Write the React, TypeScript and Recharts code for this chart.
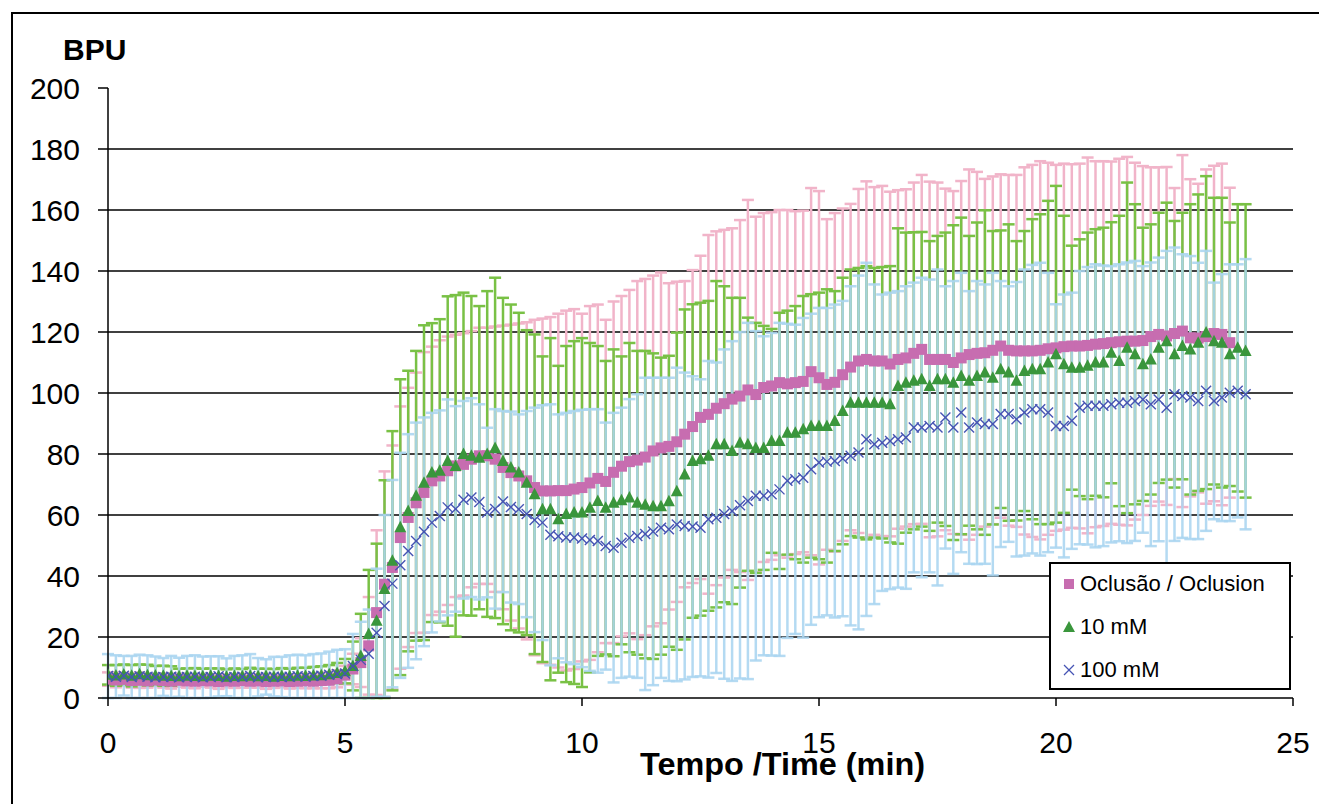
import React from 'react'
import { ComposedChart, Line, ErrorBar, XAxis, YAxis, CartesianGrid } from 'recharts'

// one reading every 10 s (1/6 min), from 0 to 24 min
const occlusionMean = [
  6.2, 5.9, 6.1, 5.7, 5.8, 5.6, 5.9, 5.7, 5.5, 5.8, 5.6, 5.5, 5.7, 5.6, 5.4, 5.6, 5.5, 5.7, 5.5, 5.6, 5.4, 5.5, 5.6, 5.4, 5.5, 5.6, 5.5, 5.7, 5.8, 6.3,
  7.5, 9.5, 11.6, 17.1, 28, 37.3, 42.8, 52.6, 59.2, 64, 67.4, 71.2, 72.8, 74.5, 76.1, 76.6, 78.3, 79.4, 79.4, 78.3, 75.6, 73.9, 72.8, 71.2, 69, 67.9, 67.9,
  68, 68, 68.5, 69, 70.5, 72, 71, 74, 76, 77.5, 78, 79, 81, 82, 82.5, 84, 86.5, 89, 92, 93, 95, 96.5, 98, 99, 101, 99.5, 101.8, 102.3, 103.4, 103, 103.4, 103.8, 107, 105, 102.8, 103.5, 106, 108.5, 110.5, 111, 110.5, 110.5, 109.5,
  111, 111.5, 113, 114.3, 111, 111, 111, 110, 111.5, 112.6, 113, 113.2, 114, 115.4, 114, 113.8, 113.8, 113.8, 114, 114.5, 114.8, 115.2, 115.4, 115.4, 115.6, 116, 116.2, 116.5, 116.8, 117, 117, 117.2, 118.5, 119.2, 118.7, 119.5, 120.3, 118.1, 118, 118.5, 119.5, 119.2, 116.5,
  null, null,
]
const occlusionSd = [
  2.2, 2.4, 2.1, 2.3, 2.5, 2.2, 2.0, 2.3, 2.4, 2.1, 2.2, 2.3, 2.0, 2.2, 2.4, 2.1, 2.2, 2.3, 2.1, 2.2, 2.4, 2.2, 2.1, 2.3, 2.2, 2.4, 2.3, 2.5, 2.6, 2.8,
  3, 5, 8, 16, 27, 37, 40, 43, 42.5, 42.7, 46, 44, 44.5, 44, 43, 43, 42, 42, 42, 43.5, 46.5, 48.5, 50, 52, 55, 56.5, 57,
  58, 59, 59, 57, 58, 57, 53, 56, 55.8, 56.3, 58.7, 58.4, 57.5, 57.5, 53.5, 52.5, 50.2, 51.3, 53, 58.8, 58, 57, 56, 57.7, 62.3, 58.3, 57.2, 57, 56.6, 57, 56.2, 56, 60.2, 61.2, 54.2, 55.5, 54.5, 53.5, 56.4, 58.4, 57, 57.4, 56.5,
  55.5, 55.3, 56, 57.2, 58.3, 58, 56, 56.2, 58, 60.7, 59.5, 57, 57, 56.3, 57.5, 57.7, 60.2, 61, 62, 61, 60, 60, 59.6, 59.8, 61.6, 60, 59.8, 59.4, 60, 60.4, 58.5, 57.2, 55.5, 54.8, 55.4, 47.7, 57.7, 52, 50.6, 54.8, 55, 56, 50.8,
  null, null,
]
const mM10Mean = [
  7.6, 7.4, 7.7, 7.3, 7.8, 7.5, 7.4, 7.3, 7.2, 7.1, 7.3, 7.2, 7.1, 7.3, 7.2, 7.0, 7.2, 7.1, 7.3, 7.1, 7.2, 7.0, 7.2, 7.1, 7.3, 7.2, 7.4, 7.5, 7.8, 8.2,
  8.8, 10.5, 13.8, 21, 25.3, 35.7, 45, 56, 61.3, 66.3, 70.6, 73.9, 74.5, 77.7, 76.1, 80, 79.4, 78.8, 80, 82, 77.7, 75.6, 73.9, 70.6, 66.8, 61.9, 61.9, 58.6, 60.3, 60.8, 60.8, 62.4, 64.6, 62.4, 64, 64.8,
  65.7, 64, 63.4, 62.9, 62.9, 64.5, 67.8, 73.3, 77.7, 78.3, 79.4, 83.2, 83.2, 81, 83.7, 83.2, 82, 82, 84.3, 84.3, 87, 87, 88.1, 89.2, 89.2, 89.2, 90.8, 94.1, 96.8, 96.8, 96.8, 96.8, 96.8, 96.3,
  102.3, 103.4, 104, 104.5, 102.3, 104.5, 104.5, 103.4, 105.6, 104, 105.6, 106.7, 105, 107.8, 106.7, 104, 107.2, 107.8, 107.8, 110, 112.7, 109.4, 108.3, 108.3, 108.9, 110, 110, 113.2, 110.5, 114.8, 112.7, 109.4, 111, 114.8, 117, 112.7, 115.4, 114.3, 116.5, 119.8, 117, 116.5, 112.7, 114.8, 113.8,
]
const mM10Sd = [
  3.2, 3.4, 3.3, 3.5, 3.2, 3.4, 3.1, 3.3, 3.2, 2.5, 2.4, 2.6, 2.5, 2.4, 2.5, 2.4, 2.5, 2.4, 2.6, 2.5, 2.4, 2.5, 2.6, 2.5, 2.6, 2.7, 2.8, 2.9, 3.0, 3.3,
  4, 8, 13.8, 21, 25.3, 35.7, 42.5, 48.5, 46, 47.5, 51.6, 49, 49.7, 54, 56, 52.9, 52.4, 49.7, 53.4, 55.8, 53.5, 53.4, 52.4, 50, 52.4, 50.1, 56.1, 50.3, 55.1, 56.2, 57.2, 54, 50.8, 48.1, 50.3, 47.2,
  50.7, 49.8, 50.4, 50.1, 48.7, 47.7, 52, 54.1, 51.4, 51.3, 50.8, 53.5, 51.8, 50.2, 47.5, 41.5, 41, 40, 36.7, 42, 40, 41.5, 43.7, 43.2, 43.7, 44.8, 42.6, 43.7, 43.7, 44.2, 44.8, 44.2, 44.5, 45.3,
  51.7, 49.2, 48.7, 48.3, 47.5, 47, 48.1, 51.6, 51.9, 47.5, 50.3, 53.2, 48.1, 45.5, 48.6, 45.8, 45.9, 49.2, 50.8, 53, 55.2, 48.7, 40, 42.1, 43.7, 43.7, 44.2, 42.8, 47.6, 54.2, 49.2, 44.8, 44.3, 44.3, 45.4, 43.7, 43.7, 47.6, 48.6, 51.3, 47, 47.5, 43.2, 47.1, 48.1,
]
const mM100Mean = [
  7.2, 7.0, 7.3, 6.9, 7.1, 7.0, 6.8, 6.9, 7.0, 6.8, 6.9, 7.0, 6.8, 6.9, 7.1, 6.8, 6.9, 7.0, 7.2, 6.8, 6.9, 7.0, 6.9, 7.0, 7.1, 7.0, 7.2, 7.3, 7.6, 7.9,
  8, 10.5, 12.5, 14.5, 21.4, 30.2, 37.5, 43.5, 48.2, 51.5, 54.5, 57.5, 59.7, 62.5, 62, 65, 65.7, 64.3, 60.8, 62, 64.4, 62.6, 61.9, 60.3, 58.4, 57.5, 53.5, 53, 52.6, 52.6, 52.3, 51.8, 51.5, 49.8, 49.3, 50.9,
  52.5, 53.1, 53.8, 54.6, 55.8, 55.3, 56.9, 56.4, 56.2, 55.8, 58.6, 59.1, 60.3, 61.3, 63.2, 64.6, 66.3, 66.3, 66.8, 68.4, 71.2, 71.7, 72.2, 75, 77.2, 77.5, 77.7, 78.5, 79.4, 80.5, 84.8, 83.2, 83.7, 84.3,
  84.8, 85.4, 88.7, 88.7, 89.2, 88.7, 92, 88.7, 93.6, 88.7, 90.3, 89.8, 89.8, 93.1, 93.1, 91.4, 93.6, 94.7, 94.7, 93.6, 89.2, 89.2, 90.9, 95.2, 95.8, 95.8, 95.8, 96.3, 96.8, 96.8, 97.4, 97.9, 96.3, 97.9, 95.2, 99.6, 99, 98.5, 97.4, 100.7, 97.4, 98.5, 100.1, 100.7, 99.6,
]
const mM100Sd = [
  7.2, 7.0, 6.5, 6.9, 7.1, 7.0, 6.8, 6.2, 6.8, 6.4, 6.9, 7.0, 6.8, 6.8, 6.6, 6.2, 6.9, 7.0, 7.2, 6.3, 5.8, 6.5, 6.6, 7.0, 7.1, 7.0, 7.2, 7.3, 7.6, 7.9,
  8, 10.5, 12.5, 14.5, 21, 29.8, 34, 36.9, 38.3, 38.8, 37.5, 36, 34.6, 35.4, 33.7, 32.4, 32.6, 32, 27.8, 32.7, 29.7, 31.3, 31.1, 33.8, 36.8, 38.5, 42.8, 40, 40.9, 41.5, 42.2, 42.9, 43.2, 40.5, 44.2, 44.3,
  45.5, 46.5, 51.2, 50.4, 49.2, 49.7, 51.4, 50.3, 49.3, 48.7, 51.9, 50.9, 54, 55.7, 56.8, 58.4, 54, 52.3, 52.9, 54.6, 51.5, 50.7, 52.4, 51, 50.7, 50.4, 51.3, 51.7, 55.6, 58, 57.9, 52.4, 48.6, 48.6,
  48.6, 49.6, 47.5, 49.1, 48, 51.8, 43, 48, 45.8, 44.7, 46.4, 45.8, 49.6, 43.6, 41.9, 45, 46.9, 47.3, 48, 45.8, 39.9, 43.1, 42, 44.8, 45.5, 46.4, 46, 45.3, 45.4, 46, 45.9, 43.7, 46.5, 46.5, 51.4, 48.1, 46.5, 46.4, 45.3, 45.9, 38.8, 40.5, 42.1, 41.5, 44.3,
]

const xTicks = [0, 5, 10, 15, 20, 25]
const yTicks = [0, 20, 40, 60, 80, 100, 120, 140, 160, 180, 200]
const gridValues = [20, 40, 60, 80, 100, 120, 140, 160, 180]
const legendLabels = ['Oclusão / Oclusion', '10 mM', '100 mM']

const PINK = '#c76db0'
const PINK_ERR = '#f1b4c9'
const GREEN = '#3a963c'
const GREEN_ERR = '#79c145'
const BLUE = '#4654b4'
const BLUE_ERR = '#aad5f0'
const FONT = "'Liberation Sans', Arial, sans-serif"

const data = mM10Mean.map((g, i) => ({
  t: i / 6,
  p: occlusionMean[i],
  pe: occlusionSd[i],
  g,
  ge: mM10Sd[i],
  b: mM100Mean[i],
  be: mM100Sd[i],
}))

const ok = (v: any) => typeof v === 'number' && Number.isFinite(v)

const SquareDot = (props: any) => {
  const { cx, cy, index } = props
  if (!ok(cx) || !ok(cy)) return <g key={`sq-${index}`} />
  return <rect key={`sq-${index}`} x={cx - 5.5} y={cy - 5.5} width={11} height={11} fill={PINK} />
}

const TriangleDot = (props: any) => {
  const { cx, cy, index } = props
  if (!ok(cx) || !ok(cy)) return <g key={`tr-${index}`} />
  return (
    <polygon
      key={`tr-${index}`}
      points={`${cx},${cy - 6.5} ${cx + 6},${cy + 5} ${cx - 6},${cy + 5}`}
      fill={GREEN}
    />
  )
}

const CrossDot = (props: any) => {
  const { cx, cy, index } = props
  if (!ok(cx) || !ok(cy)) return <g key={`cr-${index}`} />
  return (
    <g key={`cr-${index}`} stroke={BLUE} strokeWidth={1.4}>
      <line x1={cx - 5} y1={cy - 5} x2={cx + 5} y2={cy + 5} />
      <line x1={cx - 5} y1={cy + 5} x2={cx + 5} y2={cy - 5} />
    </g>
  )
}

const legendMarkers = [
  <rect key="a" x={2} y={2} width={10} height={10} fill={PINK} />,
  <polygon key="b" points="7,1 13,12 1,12" fill={GREEN} />,
  <g key="c" stroke={BLUE} strokeWidth={1.3}>
    <line x1={2} y1={2} x2={12} y2={12} />
    <line x1={2} y1={12} x2={12} y2={2} />
  </g>,
]

const tickStyle = { fontSize: 30, fill: '#000', fontFamily: FONT }

export default function App() {
  return (
    <div style={{ position: 'absolute', left: 0, top: 0, width: 1319, height: 804, overflow: 'hidden', background: '#fff' }}>
      <div style={{ position: 'absolute', left: 11, top: 12, width: 1400, height: 900, border: '2px solid #000' }} />
      <div style={{ position: 'absolute', left: 0, top: 0 }}>
        <ComposedChart width={1319} height={804} data={data} margin={{ top: 88, right: 26, bottom: 46, left: 48 }}>
          <CartesianGrid vertical={false} horizontalValues={gridValues} stroke="#000" strokeWidth={1.3} />
          <XAxis
            dataKey="t"
            type="number"
            domain={[0, 25]}
            allowDataOverflow
            ticks={xTicks}
            interval={0}
            height={60}
            tickSize={8}
            tickMargin={26}
            stroke="#000"
            strokeWidth={1.5}
            tick={tickStyle}
          />
          <YAxis
            type="number"
            domain={[0, 200]}
            allowDataOverflow
            ticks={yTicks}
            interval={0}
            width={60}
            tickSize={10}
            tickMargin={18}
            stroke="#000"
            strokeWidth={1.5}
            tick={tickStyle}
          />

          <Line dataKey="p" stroke="none" dot={false} activeDot={false} isAnimationActive={false}>
            <ErrorBar dataKey="pe" direction="y" width={6} stroke={PINK_ERR} strokeWidth={2.5} />
          </Line>
          <Line dataKey="g" stroke="none" dot={false} activeDot={false} isAnimationActive={false}>
            <ErrorBar dataKey="ge" direction="y" width={6} stroke={GREEN_ERR} strokeWidth={2.5} />
          </Line>
          <Line dataKey="b" stroke="none" dot={false} activeDot={false} isAnimationActive={false}>
            <ErrorBar dataKey="be" direction="y" width={6} stroke={BLUE_ERR} strokeWidth={2.5} strokeOpacity={0.88} />
          </Line>

          <Line dataKey="p" stroke="none" dot={SquareDot} activeDot={false} isAnimationActive={false} />
          <Line dataKey="g" stroke="none" dot={TriangleDot} activeDot={false} isAnimationActive={false} />
          <Line dataKey="b" stroke="none" dot={CrossDot} activeDot={false} isAnimationActive={false} />

          <text x={63} y={60} fontFamily={FONT} fontWeight="bold" fontSize={30} fill="#000">
            BPU
          </text>
          <text
            x={640}
            y={775}
            fontFamily={"'Liberation Sans Narrow', 'Arial Narrow', " + FONT}
            fontWeight="bold"
            fontSize={32}
            fill="#000"
            textLength={285}
            lengthAdjust="spacingAndGlyphs"
          >
            Tempo /Time (min)
          </text>
        </ComposedChart>
      </div>
      <div
        style={{
          position: 'absolute',
          left: 1049,
          top: 562,
          width: 238,
          height: 124,
          border: '2px solid #000',
          background: '#fff',
          fontFamily: FONT,
          fontSize: 22,
          color: '#000',
        }}
      >
        {legendLabels.map((label, k) => (
          <div
            key={label}
            style={{ position: 'absolute', left: 11, top: 7 + k * 43, height: 26, display: 'flex', alignItems: 'center' }}
          >
            <svg width={14} height={14} style={{ marginRight: 4 }}>
              {legendMarkers[k]}
            </svg>
            <span>{label}</span>
          </div>
        ))}
      </div>
    </div>
  )
}
